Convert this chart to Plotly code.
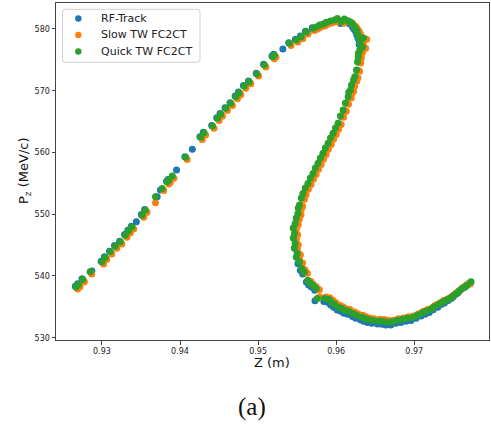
import plotly.graph_objects as go

# ---------------- data ----------------
rf_z = [0.92659, 0.92689, 0.92745, 0.92871, 0.92990, 0.93032, 0.93097, 0.93161, 0.93226, 0.93290,
        0.93332, 0.93376, 0.93441, 0.93505, 0.93547, 0.93708, 0.93750, 0.93827, 0.93847, 0.93956,
        0.94062, 0.94158, 0.94255, 0.94298, 0.94406, 0.94470, 0.94513, 0.94577, 0.94641, 0.94706,
        0.94748, 0.94812, 0.94877, 0.94976, 0.95070, 0.95178, 0.95317, 0.95199, 0.95392, 0.95478,
        0.95542, 0.95638, 0.95607, 0.95693, 0.95735, 0.95778, 0.95825, 0.95864, 0.95915, 0.95971,
        0.96005, 0.96057, 0.96095, 0.96143, 0.96172, 0.96208, 0.96224, 0.96250, 0.96263, 0.96280,
        0.96340, 0.96293, 0.96302, 0.96327, 0.96318, 0.96301, 0.96297, 0.96288, 0.96275, 0.96253,
        0.96237, 0.96211, 0.96198, 0.96176, 0.96168, 0.96133, 0.96104, 0.96069, 0.96039, 0.96005,
        0.95975, 0.95941, 0.95911, 0.95876, 0.95846, 0.95812, 0.95782, 0.95748, 0.95718, 0.95684,
        0.95653, 0.95619, 0.95589, 0.95568, 0.95545, 0.95529, 0.95525, 0.95503, 0.95490, 0.95465,
        0.95481, 0.95465, 0.95490, 0.95478, 0.95516, 0.95503, 0.95510, 0.95541, 0.95571, 0.95618,
        0.95648, 0.95683, 0.95725, 0.95728, 0.95842, 0.95890, 0.95928, 0.95967, 0.96014, 0.96057,
        0.96099, 0.96147, 0.96208, 0.96250, 0.96314, 0.96353, 0.96401, 0.96456, 0.96529, 0.96585,
        0.96636, 0.96700, 0.96765, 0.96829, 0.96894, 0.96958, 0.97023, 0.97087, 0.97139, 0.97193,
        0.97242, 0.97301, 0.97345, 0.97386, 0.97435, 0.97473, 0.97499, 0.97537, 0.97563, 0.97601,
        0.97640, 0.97666, 0.97717]
rf_pz = [538.33, 538.72, 539.53, 540.81, 542.39, 543.10, 544.01, 544.93, 545.63, 546.71,
         547.41, 548.06, 548.77, 549.95, 550.77, 552.82, 553.92, 555.35, 555.63, 557.15,
         559.31, 560.50, 562.55, 563.29, 564.38, 565.63, 566.32, 567.25, 568.06, 569.13,
         569.78, 570.86, 571.56, 572.81, 574.27, 575.61, 576.76, 575.89, 577.78, 578.32,
         578.85, 579.30, 579.61, 580.21, 580.02, 580.35, 580.51, 580.79, 581.00, 581.16,
         581.40, 580.88, 581.32, 581.00, 580.83, 580.35, 580.02, 579.54, 579.05, 578.45,
         578.34, 577.48, 578.02, 576.88, 576.50, 576.01, 575.41, 574.60, 573.26, 572.17,
         571.63, 570.82, 570.01, 569.64, 568.93, 567.91, 566.77, 565.80, 564.62, 563.86,
         563.00, 562.23, 561.38, 560.61, 559.76, 558.99, 558.14, 557.37, 556.51, 555.75,
         554.89, 554.13, 553.27, 552.51, 551.38, 550.89, 550.03, 549.27, 548.41, 547.65,
         546.79, 546.03, 545.17, 544.41, 543.55, 542.95, 541.99, 540.92, 540.32, 539.02,
         538.53, 538.21, 537.68, 535.97, 535.85, 535.74, 535.30, 534.93, 534.49, 534.28,
         533.96, 533.80, 533.42, 533.15, 532.87, 532.66, 532.45, 532.34, 532.22, 532.18,
         532.06, 532.06, 532.34, 532.45, 532.66, 532.78, 533.15, 533.52, 533.80, 534.07,
         534.53, 534.93, 535.36, 535.62, 536.02, 536.36, 536.64, 537.06, 537.34, 537.83,
         538.12, 538.41, 538.95]

slow_z = [0.92689, 0.92719, 0.92775, 0.92869, 0.93020, 0.93062, 0.93127, 0.93191, 0.93256, 0.93320,
          0.93362, 0.93406, 0.93535, 0.93577, 0.93686, 0.93792, 0.93857, 0.93877, 0.93921, 0.94092,
          0.94285, 0.94328, 0.94436, 0.94500, 0.94543, 0.94607, 0.94671, 0.94736, 0.94778, 0.94842,
          0.94907, 0.95006, 0.95100, 0.95208, 0.95229, 0.95422, 0.95508, 0.95572, 0.95637, 0.95723,
          0.95765, 0.95808, 0.95855, 0.95894, 0.95945, 0.96001, 0.96035, 0.96097, 0.96135, 0.96183,
          0.96212, 0.96248, 0.96269, 0.96295, 0.96313, 0.96330, 0.96390, 0.96343, 0.96352, 0.96377,
          0.96343, 0.96326, 0.96322, 0.96313, 0.96300, 0.96278, 0.96262, 0.96236, 0.96223, 0.96201,
          0.96193, 0.96158, 0.96129, 0.96094, 0.96064, 0.96030, 0.96000, 0.95966, 0.95936, 0.95901,
          0.95871, 0.95837, 0.95807, 0.95773, 0.95743, 0.95709, 0.95678, 0.95644, 0.95614, 0.95593,
          0.95570, 0.95554, 0.95550, 0.95528, 0.95515, 0.95490, 0.95506, 0.95490, 0.95515, 0.95503,
          0.95541, 0.95528, 0.95570, 0.95601, 0.95631, 0.95678, 0.95708, 0.95743, 0.95785, 0.95788,
          0.95872, 0.95920, 0.95958, 0.95997, 0.96044, 0.96087, 0.96129, 0.96177, 0.96238, 0.96280,
          0.96344, 0.96383, 0.96431, 0.96486, 0.96559, 0.96615, 0.96666, 0.96730, 0.96795, 0.96859,
          0.96924, 0.96988, 0.97053, 0.97117, 0.97169, 0.97223, 0.97272, 0.97331, 0.97375, 0.97416,
          0.97465, 0.97503, 0.97529, 0.97567, 0.97593, 0.97631, 0.97670, 0.97696, 0.97717]
slow_pz = [537.88, 538.27, 539.08, 540.32, 541.94, 542.65, 543.56, 544.48, 545.18, 546.26,
           546.96, 547.61, 549.50, 550.32, 551.85, 553.83, 554.90, 555.18, 555.83, 558.86,
           562.10, 562.84, 563.93, 565.18, 565.87, 566.80, 567.61, 568.68, 569.33, 570.41,
           571.11, 572.36, 573.82, 575.16, 575.44, 577.33, 577.87, 578.40, 579.16, 579.76,
           579.97, 580.30, 580.46, 580.74, 580.95, 581.11, 581.35, 580.93, 581.37, 581.10,
           580.93, 580.45, 580.12, 579.64, 579.15, 578.55, 578.34, 577.48, 578.02, 576.88,
           576.40, 575.91, 575.31, 574.50, 573.16, 572.07, 571.53, 570.72, 569.91, 569.54,
           568.83, 567.81, 566.67, 565.70, 564.52, 563.76, 562.90, 562.13, 561.28, 560.51,
           559.66, 558.89, 558.04, 557.27, 556.41, 555.65, 554.79, 554.03, 553.17, 552.41,
           551.28, 550.79, 549.93, 549.17, 548.31, 547.55, 546.69, 545.93, 545.07, 544.31,
           543.45, 542.85, 542.09, 541.02, 540.42, 539.12, 538.63, 538.31, 537.78, 536.62,
           536.60, 536.49, 536.05, 535.68, 535.24, 535.03, 534.71, 534.55, 534.17, 533.90,
           533.62, 533.41, 533.20, 533.09, 532.97, 532.93, 532.81, 532.81, 533.09, 533.20,
           533.41, 533.53, 533.90, 534.27, 534.55, 534.82, 535.28, 535.68, 536.01, 536.22,
           536.57, 536.86, 537.14, 537.51, 537.79, 538.23, 538.52, 538.76, 538.70]

quick_z = [0.92669, 0.92699, 0.92755, 0.92849, 0.93000, 0.93042, 0.93107, 0.93171, 0.93236, 0.93300,
           0.93342, 0.93386, 0.93515, 0.93557, 0.93686, 0.93772, 0.93837, 0.93857, 0.93901, 0.94072,
           0.94265, 0.94308, 0.94416, 0.94480, 0.94523, 0.94587, 0.94651, 0.94716, 0.94758, 0.94822,
           0.94887, 0.94986, 0.95080, 0.95188, 0.95209, 0.95402, 0.95488, 0.95552, 0.95617, 0.95703,
           0.95745, 0.95788, 0.95835, 0.95874, 0.95925, 0.95981, 0.96015, 0.96067, 0.96105, 0.96153,
           0.96182, 0.96218, 0.96234, 0.96260, 0.96273, 0.96290, 0.96350, 0.96303, 0.96312, 0.96337,
           0.96303, 0.96286, 0.96282, 0.96273, 0.96260, 0.96238, 0.96222, 0.96196, 0.96183, 0.96161,
           0.96153, 0.96118, 0.96089, 0.96054, 0.96024, 0.95990, 0.95960, 0.95926, 0.95896, 0.95861,
           0.95831, 0.95797, 0.95767, 0.95733, 0.95703, 0.95669, 0.95638, 0.95604, 0.95574, 0.95553,
           0.95530, 0.95514, 0.95510, 0.95488, 0.95475, 0.95450, 0.95466, 0.95450, 0.95475, 0.95463,
           0.95501, 0.95488, 0.95530, 0.95561, 0.95591, 0.95638, 0.95668, 0.95703, 0.95745, 0.95758,
           0.95852, 0.95900, 0.95938, 0.95977, 0.96024, 0.96067, 0.96109, 0.96157, 0.96218, 0.96260,
           0.96324, 0.96363, 0.96411, 0.96466, 0.96539, 0.96595, 0.96646, 0.96710, 0.96775, 0.96839,
           0.96904, 0.96968, 0.97033, 0.97097, 0.97149, 0.97203, 0.97252, 0.97311, 0.97355, 0.97396,
           0.97445, 0.97483, 0.97509, 0.97547, 0.97573, 0.97611, 0.97650, 0.97676, 0.97727]
quick_pz = [538.23, 538.62, 539.43, 540.67, 542.29, 543.00, 543.91, 544.83, 545.53, 546.61,
            547.31, 547.96, 549.85, 550.67, 552.82, 554.18, 555.25, 555.53, 556.18, 559.21,
            562.45, 563.19, 564.28, 565.53, 566.22, 567.15, 567.96, 569.03, 569.68, 570.76,
            571.46, 572.71, 574.17, 575.51, 575.79, 577.68, 578.22, 578.75, 579.51, 580.11,
            580.32, 580.65, 580.81, 581.09, 581.30, 581.46, 581.70, 581.18, 581.62, 581.30,
            581.13, 580.65, 580.32, 579.84, 579.35, 578.75, 578.54, 577.68, 578.22, 577.08,
            576.60, 576.11, 575.51, 574.70, 573.36, 572.27, 571.73, 570.92, 570.11, 569.74,
            569.03, 568.01, 566.87, 565.90, 564.72, 563.96, 563.10, 562.33, 561.48, 560.71,
            559.86, 559.09, 558.24, 557.47, 556.61, 555.85, 554.99, 554.23, 553.37, 552.61,
            551.48, 550.99, 550.13, 549.37, 548.51, 547.75, 546.89, 546.13, 545.27, 544.51,
            543.65, 543.05, 542.29, 541.22, 540.62, 539.32, 538.83, 538.51, 537.98, 536.37,
            536.35, 536.24, 535.80, 535.43, 534.99, 534.78, 534.46, 534.30, 533.92, 533.65,
            533.37, 533.16, 532.95, 532.84, 532.72, 532.68, 532.56, 532.56, 532.84, 532.95,
            533.16, 533.28, 533.65, 534.02, 534.30, 534.57, 535.03, 535.43, 535.76, 535.97,
            536.32, 536.61, 536.89, 537.26, 537.54, 537.98, 538.27, 538.51, 539.05]

series_names = ["RF-Track", "Slow TW FC2CT", "Quick TW FC2CT"]
series_colors = ["#1f77b4", "#ff7f0e", "#2ca02c"]
x_ticks = [0.93, 0.94, 0.95, 0.96, 0.97]
y_ticks = [530, 540, 550, 560, 570, 580]

# ---------------- geometry helpers ----------------
W, H = 491, 431
ML, MR, MT, MB = 56, 2, 3, 91
pw, ph = W - ML - MR, H - MT - MB


def px(xp):
    return (xp - ML) / pw


def py(yp):
    return 1 - (yp - MT) / ph


# ---------------- figure ----------------
fig = go.Figure()
for name, color, zs, ps in zip(series_names, series_colors,
                               [rf_z, slow_z, quick_z], [rf_pz, slow_pz, quick_pz]):
    fig.add_trace(go.Scatter(
        x=zs, y=ps, mode="markers", name=name, showlegend=False,
        marker=dict(color=color, size=7, line=dict(width=0)),
    ))

axis_common = dict(
    showline=True, linecolor="#444", linewidth=1, mirror=True,
    ticks="outside", ticklen=3.5, tickwidth=0.8, tickcolor="#444",
    showgrid=False, zeroline=False,
    tickfont=dict(family="DejaVu Sans", size=8, color="#222"),
)

# legend drawn as a box with markers and labels (matplotlib-like spacing)
leg_left, leg_right, leg_top, leg_bot = 62.5, 200, 9.3, 62.3
r = 3.0
x0, x1, y0, y1 = px(leg_left), px(leg_right), py(leg_top), py(leg_bot)
rx, ry = r / pw, r / ph
legend_path = (
    f"M {x0 + rx} {y0} L {x1 - rx} {y0} Q {x1} {y0} {x1} {y0 - ry} "
    f"L {x1} {y1 + ry} Q {x1} {y1} {x1 - rx} {y1} "
    f"L {x0 + rx} {y1} Q {x0} {y1} {x0} {y1 + ry} "
    f"L {x0} {y0 - ry} Q {x0} {y0} {x0 + rx} {y0} Z"
)
shapes = [dict(type="path", path=legend_path, xref="paper", yref="paper",
               fillcolor="rgba(255,255,255,0.8)", line=dict(color="#d0d0d0", width=1))]
annotations = []
row_y = [18.5, 35.0, 51.5]
for name, color, ry_px in zip(series_names, series_colors, row_y):
    shapes.append(dict(type="circle", xref="paper", yref="paper",
                       xsizemode="pixel", ysizemode="pixel",
                       xanchor=px(78.3), yanchor=py(ry_px),
                       x0=-3.2, x1=3.2, y0=-3.2, y1=3.2,
                       fillcolor=color, line=dict(width=0)))
    annotations.append(dict(text=name, x=px(99), y=py(ry_px), xref="paper", yref="paper",
                            xanchor="left", yanchor="middle", showarrow=False,
                            font=dict(family="DejaVu Sans", size=11, color="#222")))

annotations += [
    dict(text="Z (m)", x=px(271.7), y=py(362.5), xref="paper", yref="paper",
         xanchor="center", yanchor="middle", showarrow=False,
         font=dict(family="DejaVu Sans", size=13, color="#111")),
    dict(text="P<sub>z</sub> (MeV/c)", x=px(24), y=py(171), textangle=-90,
         xref="paper", yref="paper", xanchor="center", yanchor="middle", showarrow=False,
         font=dict(family="DejaVu Sans", size=13, color="#111")),
    dict(text="(a)", x=px(251.5), y=py(407), xref="paper", yref="paper",
         xanchor="center", yanchor="middle", showarrow=False,
         font=dict(family="Liberation Serif", size=25, color="#111")),
]

fig.update_layout(
    width=W, height=H,
    margin=dict(l=ML, r=MR, t=MT, b=MB),
    paper_bgcolor="white", plot_bgcolor="white",
    xaxis=dict(range=[0.92412, 0.97957], tickvals=x_ticks,
               ticktext=[f"{v:.2f}" for v in x_ticks], **axis_common),
    yaxis=dict(range=[529.63, 584.2], tickvals=y_ticks,
               ticktext=[str(v) for v in y_ticks], **axis_common),
    showlegend=False,
    shapes=shapes,
    annotations=annotations,
)

fig.write_html("out.html")
